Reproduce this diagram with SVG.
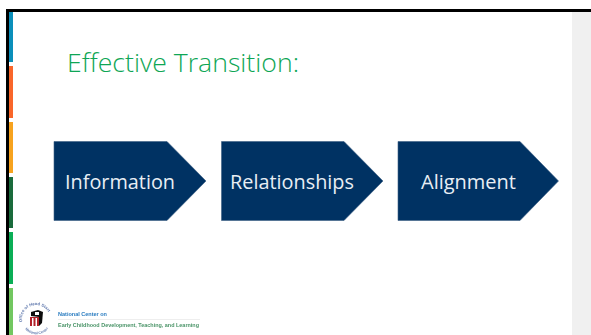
<svg xmlns="http://www.w3.org/2000/svg" width="591" height="335" viewBox="0 0 591 335">
<defs>
<filter id="soft" x="-5%" y="-5%" width="110%" height="110%"><feGaussianBlur stdDeviation="0.3"/></filter>
<path id="ringTop" d="M22.300,322 A14,14 0 1 1 50,319"/>
<path id="ringBottom" d="M25,329 A15,15 0 0 0 48,329"/>
</defs>
<style>
.lab{font-family:"Open Sans","Liberation Sans",sans-serif;font-size:20.500px;fill:#e8eef4;text-anchor:middle}
.arrow{fill:#003263;stroke:#3d5f85;stroke-width:.6}
.logo{font-family:"Liberation Sans",Arial,sans-serif;font-size:4.800px;font-weight:bold}
.ring{font-family:"Liberation Sans",Arial,sans-serif;font-size:4.200px;font-weight:bold;fill:#5f78ad}
</style>
<rect width="591" height="335" fill="#fff"/>
<rect x="572" y="11" width="19" height="324" fill="#f0f0f0"/>
<g id="frame">
<rect x="6" y="9" width="585" height="3" fill="#000"/>
<rect x="9" y="12" width="4" height="50" fill="#0b8fba"/>
<rect x="9" y="66" width="4" height="52" fill="#f9662a"/>
<rect x="9" y="122" width="4" height="51" fill="#f7a31f"/>
<rect x="9" y="177" width="4" height="51" fill="#1a6b3c"/>
<rect x="9" y="232" width="4" height="52" fill="#0aae56"/>
<rect x="9" y="288" width="4" height="47" fill="#72c760"/>
<rect x="6" y="9" width="3" height="326" fill="#000"/>
</g>
<text id="title" x="67" y="72" font-family="'Open Sans','Liberation Sans',sans-serif" font-size="25.500" font-weight="300" fill="#0ea655" textLength="232" lengthAdjust="spacingAndGlyphs">Effective Transition:</text>
<g id="connectors"></g>
<g id="node-information">
<polygon class="arrow" points="54,141.500 167,141.500 206,181 167,220.500 54,220.500"/>
<text class="lab" x="120" y="189" textLength="110" lengthAdjust="spacingAndGlyphs">Information</text>
</g>
<g id="node-relationships">
<polygon class="arrow" points="221.500,141.500 344,141.500 383,181 344,220.500 221.500,220.500"/>
<text class="lab" x="292" y="189" textLength="124" lengthAdjust="spacingAndGlyphs">Relationships</text>
</g>
<g id="node-alignment">
<polygon class="arrow" points="398,141.500 520,141.500 558.500,181 520,220.500 398,220.500"/>
<text class="lab" x="468.500" y="189" textLength="95" lengthAdjust="spacingAndGlyphs">Alignment</text>
</g>
<g id="logo" filter="url(#soft)">
<text class="ring"><textPath href="#ringTop">Office of Head Start</textPath></text>
<text class="ring" style="font-size:3.600px"><textPath href="#ringBottom">National Center</textPath></text>
<rect x="30" y="317" width="9" height="9" fill="#b3202c"/>
<rect x="32" y="318" width="1.500" height="8" fill="#fff"/>
<rect x="35.500" y="318" width="1.500" height="8" fill="#fff"/>
<polygon points="31,312 38,310 43,312 42,323 39,326 39,317 31,316" fill="#111"/>
<rect x="35" y="312" width="4" height="3" fill="#fff"/>
<text class="logo" x="58" y="316" fill="#2a7cc0" textLength="49" lengthAdjust="spacingAndGlyphs">National Center on</text>
<rect x="58" y="319" width="142" height=".5" fill="#dcdcdc"/>
<text class="logo" x="58" y="326.500" fill="#4a9468" textLength="141" lengthAdjust="spacingAndGlyphs">Early Childhood Development, Teaching, and Learning</text>
</g>
</svg>
